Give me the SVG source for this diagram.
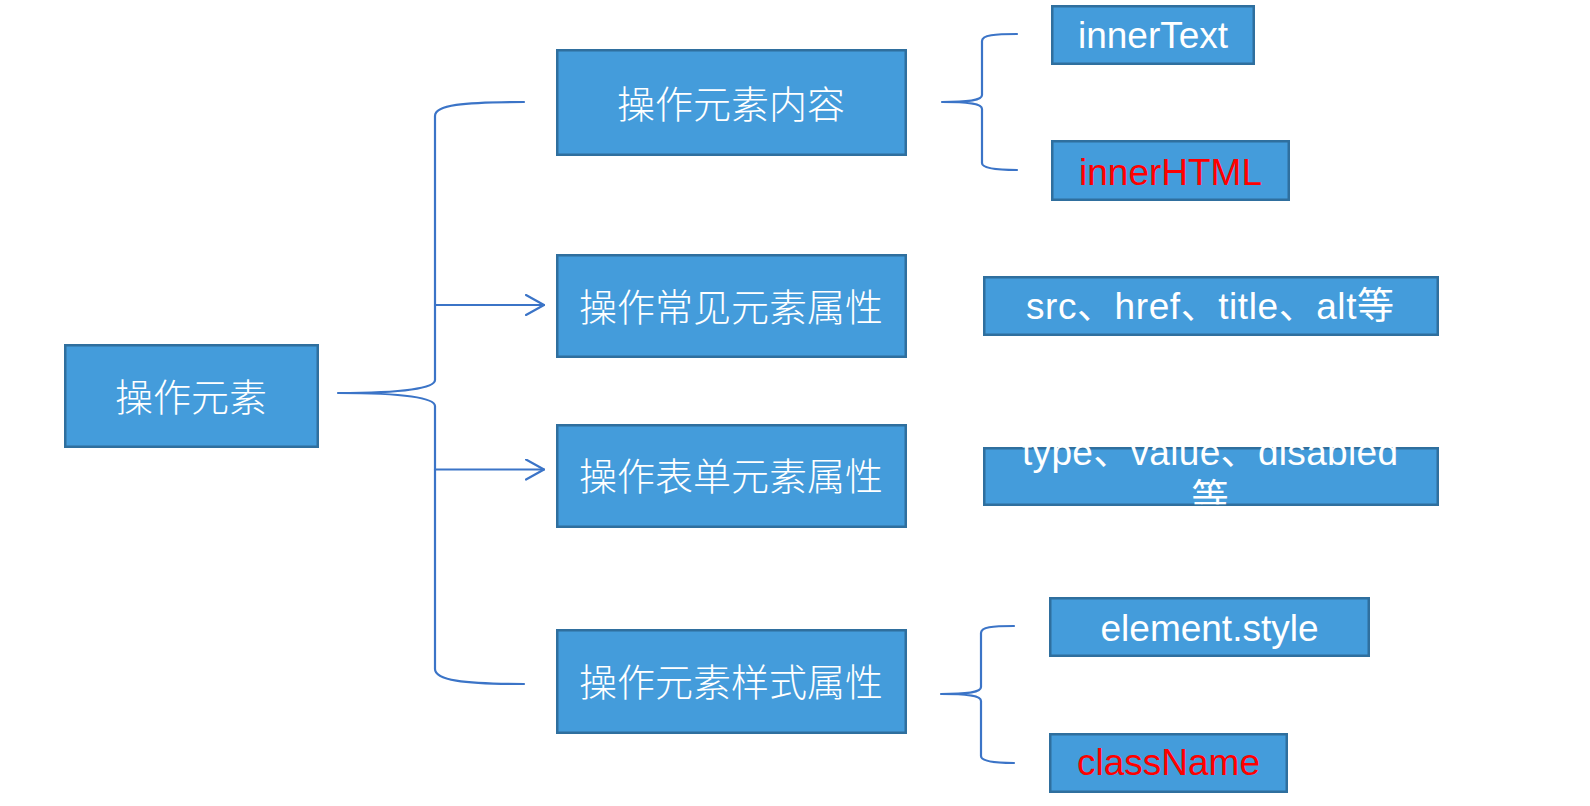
<svg xmlns="http://www.w3.org/2000/svg" width="1590" height="806" viewBox="0 0 1590 806">
<style>
.box{fill:#449cdb;stroke:#2f6f9e;stroke-width:2.5}
.cn{font-family:"Noto Sans CJK SC","Noto Sans",sans-serif;font-size:38px;font-weight:300;fill:#ffffff;text-anchor:middle;dominant-baseline:central}
.lt{font-family:"Liberation Sans","Noto Sans CJK SC",sans-serif;font-size:37px;fill:#ffffff;text-anchor:middle}
.red{fill:#ff0000}
.conn{fill:none;stroke:#3b74c7;stroke-width:2.2;stroke-linecap:round;stroke-linejoin:round}
</style>
<defs>
<marker id="arr" viewBox="0 0 20 22" refX="19" refY="11" markerWidth="20" markerHeight="22" markerUnits="userSpaceOnUse" orient="auto">
<path d="M1,1 L19,11 L1,21" fill="none" stroke="#3b74c7" stroke-width="2.2" stroke-linecap="round" stroke-linejoin="round"/>
</marker>
<clipPath id="typeclip"><rect x="983" y="443.5" width="456" height="61"/></clipPath>
</defs>
<rect width="1590" height="806" fill="#ffffff"/>
<g id="connectors">
<path class="conn" d="M524,102 C462,102 435,105 435,116 V380 C435,388 405,393 338,393 M338,393 C405,393 435,398 435,406 V669 C435,680 462,684 524,684"/>
<path class="conn" d="M435,305 H544" marker-end="url(#arr)"/>
<path class="conn" d="M435,469.5 H544" marker-end="url(#arr)"/>
<path class="conn" d="M1017,34 C995,34 982,35 982,41 V95 C982,100 970,102 942,102 M942,102 C970,102 982,104 982,109 V163 C982,168 995,170 1017,170"/>
<path class="conn" d="M1014,626 C992,626 981,627 981,633 V687 C981,692 969,694 941,694 M941,694 C969,694 981,696 981,701 V756 C981,761 992,763 1014,763"/>
</g>
<g id="node-main">
<rect class="box" x="65.25" y="345.25" width="252.5" height="101.5"/>
<text class="cn" x="191" y="394">操作元素</text>
</g>
<g id="node-content">
<rect class="box" x="557.25" y="50.25" width="348.5" height="104.5"/>
<text class="cn" x="731" y="101">操作元素内容</text>
</g>
<g id="node-common">
<rect class="box" x="557.25" y="255.25" width="348.5" height="101.5"/>
<text class="cn" x="731" y="304">操作常见元素属性</text>
</g>
<g id="node-form">
<rect class="box" x="557.25" y="425.25" width="348.5" height="101.5"/>
<text class="cn" x="731" y="473">操作表单元素属性</text>
</g>
<g id="node-style">
<rect class="box" x="557.25" y="630.25" width="348.5" height="102.5"/>
<text class="cn" x="731" y="679">操作元素样式属性</text>
</g>
<g id="node-innertext">
<rect class="box" x="1052.25" y="6.25" width="201.5" height="57.5"/>
<text class="lt" x="1153" y="48">innerText</text>
</g>
<g id="node-innerhtml">
<rect class="box" x="1052.25" y="141.25" width="236.5" height="58.5"/>
<text class="lt red" x="1170.5" y="185">innerHTML</text>
</g>
<g id="node-src">
<rect class="box" x="984.25" y="277.25" width="453.5" height="57.5"/>
<text class="lt" x="1210" y="319" textLength="368" lengthAdjust="spacing">src、href、title、alt等</text>
</g>
<g id="node-type">
<rect class="box" x="984.25" y="448.25" width="453.5" height="56.5"/>
<g clip-path="url(#typeclip)">
<text class="lt" x="1210" y="465" textLength="376" lengthAdjust="spacing">type、value、disabled</text>
<text class="lt" x="1210" y="511">等</text>
</g>
</g>
<g id="node-elementstyle">
<rect class="box" x="1050.25" y="598.25" width="318.5" height="57.5"/>
<text class="lt" x="1209.5" y="641">element.style</text>
</g>
<g id="node-classname">
<rect class="box" x="1050.25" y="734.25" width="236.5" height="57.5"/>
<text class="lt red" x="1168.5" y="775">className</text>
</g>
</svg>
